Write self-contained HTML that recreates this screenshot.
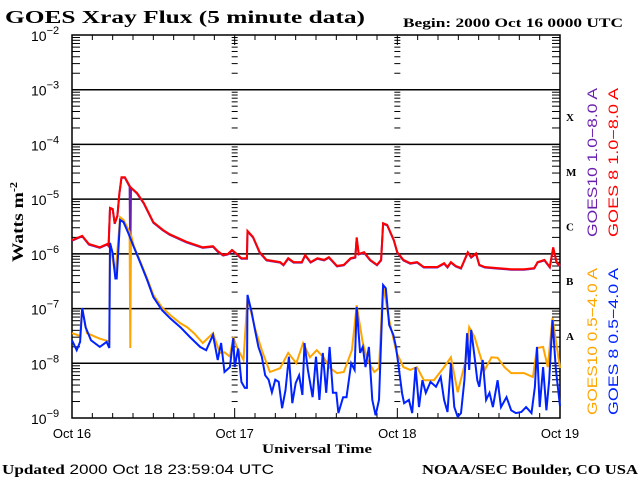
<!DOCTYPE html>
<html><head><meta charset="utf-8"><style>
html,body{margin:0;padding:0;background:#fff}
svg{display:block}
text{font-family:"Liberation Sans",sans-serif}
.serif{font-family:"Liberation Serif",serif;font-weight:bold}
</style></head><body>
<svg id="chart" width="640" height="480" viewBox="0 0 640 480" xmlns="http://www.w3.org/2000/svg">
<rect width="640" height="480" fill="#fff"/>
<text class="serif" x="5" y="23" font-size="18" textLength="360" lengthAdjust="spacingAndGlyphs">GOES Xray Flux (5 minute data)</text>
<text class="serif" x="403" y="27" font-size="13" textLength="220" lengthAdjust="spacingAndGlyphs">Begin:  2000 Oct 16 0000 UTC</text>
<text class="serif" font-size="16" transform="translate(23,262) rotate(-90)" textLength="80" lengthAdjust="spacingAndGlyphs">Watts m<tspan font-size="10" dy="-6">-2</tspan></text>
<text class="serif" x="262" y="453" font-size="13" textLength="110" lengthAdjust="spacingAndGlyphs">Universal Time</text>
<text x="2" y="474" font-size="14" textLength="272" lengthAdjust="spacingAndGlyphs"><tspan class="serif">Updated</tspan> 2000 Oct 18 23:59:04 UTC</text>
<text class="serif" x="422" y="474" font-size="14" textLength="216" lengthAdjust="spacingAndGlyphs">NOAA/SEC Boulder, CO USA</text>
<g id="axes"></g>
<g id="series"></g>
<text font-size="14" fill="#6a1fb0" transform="translate(597,237) rotate(-90)" textLength="149" lengthAdjust="spacingAndGlyphs">GOES10 1.0−8.0 A</text>
<text font-size="14" fill="#ff0000" transform="translate(618,237) rotate(-90)" textLength="149" lengthAdjust="spacingAndGlyphs">GOES 8 1.0−8.0 A</text>
<text font-size="14" fill="#ffa500" transform="translate(597,415) rotate(-90)" textLength="147" lengthAdjust="spacingAndGlyphs">GOES10 0.5−4.0 A</text>
<text font-size="14" fill="#0022ff" transform="translate(618,415) rotate(-90)" textLength="147" lengthAdjust="spacingAndGlyphs">GOES 8 0.5−4.0 A</text>
</svg>
<script>
const dayLabels=["Oct 16","Oct 17","Oct 18","Oct 19"];
const decadeExps=[-2,-3,-4,-5,-6,-7,-8,-9];
const flareClasses=["X","M","C","B","A"];
const redT=[0,1.5,2.5,4.1,5.2,5.4,5.6,6.0,6.3,6.7,7.0,7.3,7.8,8.6,9.6,10.6,12,13.4,14.4,16.9,19.3,20.8,21.5,22.3,23,23.6,24.3,25,25.8,25.9,26.7,27.7,28.7,30.7,31.2,31.9,32.7,33.9,34.4,35.2,36.2,37.2,37.9,39.1,40.1,41.1,41.8,42,42.3,43.1,44,45,45.6,45.9,46.5,47.5,48,48.9,49.9,50.9,51.9,53.9,54.9,55.4,55.9,56.6,57.4,58.4,58.9,59.6,60.1,60.9,62.8,64.8,66.7,68.2,68.7,69.7,70.5,71,71.5,72];
const redV=[-5.75,-5.67,-5.82,-5.88,-5.82,-5.85,-5.16,-5.18,-5.44,-5.3,-4.89,-4.6,-4.6,-4.78,-4.89,-5.07,-5.42,-5.56,-5.64,-5.78,-5.88,-5.86,-5.95,-6.02,-6.0,-5.93,-6.0,-6.08,-6.08,-5.58,-5.69,-5.97,-6.11,-6.15,-6.2,-6.08,-6.15,-6.15,-6.02,-6.15,-6.08,-6.11,-6.06,-6.22,-6.2,-6.08,-6.06,-5.7,-6.0,-5.97,-6.11,-6.2,-6.11,-5.44,-5.47,-5.75,-5.97,-6.11,-6.17,-6.15,-6.24,-6.24,-6.17,-6.24,-6.15,-6.22,-6.26,-5.97,-6.06,-5.99,-6.2,-6.24,-6.26,-6.28,-6.28,-6.26,-6.15,-6.11,-6.24,-5.88,-6.15,-6.22];
const purpleT=[0,1.5,2.5,4.1,5.2,5.4,5.6,6.0,6.3,6.7,7.0,7.3,7.8,8.5,8.6,8.7,9.6,10.6,12,13.4,14.4,16.9,19.3,20.8,21.5,22.3,23,23.6,24.3,25,25.8,25.9,26.7,27.7,28.7,30.7,31.2,31.9,32.7,33.9,34.4,35.2,36.2,37.2,37.9,39.1,40.1,41.1,41.8,42,42.3,43.1,44,45,45.6,45.9,46.5,47.5,48,48.9,49.9,50.9,51.9,53.9,54.9,55.4,55.9,56.6,57.4,58.4,58.9,59.6,60.1,60.9,62.8,64.8,66.7,68.2,68.7,69.7,70.5,71,71.5,72];
const purpleV=[-5.76,-5.68,-5.83,-5.89,-5.83,-5.86,-5.17,-5.19,-5.45,-5.31,-4.9,-4.61,-4.61,-4.77,-6.17,-4.79,-4.9,-5.08,-5.43,-5.57,-5.65,-5.79,-5.89,-5.87,-5.96,-6.03,-6.01,-5.94,-6.01,-6.09,-6.09,-5.59,-5.7,-5.98,-6.12,-6.16,-6.21,-6.09,-6.16,-6.16,-6.03,-6.16,-6.09,-6.12,-6.07,-6.23,-6.21,-6.09,-6.07,-5.71,-6.01,-5.98,-6.12,-6.21,-6.12,-5.45,-5.48,-5.76,-5.98,-6.12,-6.18,-6.16,-6.25,-6.25,-6.18,-6.25,-6.16,-6.23,-6.27,-5.98,-6.07,-6.0,-6.21,-6.25,-6.27,-6.29,-6.29,-6.27,-6.16,-6.12,-6.25,-5.89,-6.16,-6.23];
const orangeT=[0,1.2,1.5,2.2,4.1,5.5,5.6,6.4,7.1,7.6,8.5,8.6,8.7,9.1,10.1,11.1,12,13.3,14.5,16,17,18,19.3,20.8,21.8,22.5,23.3,23.8,24.3,25.3,25.9,27,28,29.2,30.7,31.9,33.1,34.1,35.1,36.1,37.1,38.1,39.1,40.1,41.3,42,42.9,43.6,44.6,45.3,45.9,46.8,47.9,48.9,49.9,50.9,51.9,53.4,54.9,55.9,56.9,58.1,58.6,59.4,60.1,60.9,61.9,62.8,63.8,64.8,66.7,68,68.6,69.5,70.2,70.9,72];
const orangeV=[-7.45,-7.5,-6.99,-7.45,-7.55,-7.6,-5.8,-6.4,-5.33,-5.38,-5.6,-7.72,-5.65,-5.85,-6.15,-6.45,-6.75,-6.98,-7.12,-7.27,-7.34,-7.45,-7.63,-7.45,-7.81,-7.8,-7.88,-7.52,-7.7,-7.94,-6.79,-7.36,-7.76,-8.16,-8.09,-7.81,-8.0,-7.63,-7.89,-7.76,-7.89,-8.09,-8.18,-8.16,-7.76,-6.94,-7.63,-7.94,-8.16,-8.09,-6.57,-7.21,-7.81,-8.07,-8.12,-8.07,-8.31,-8.31,-8.07,-7.89,-8.53,-7.94,-7.34,-7.52,-7.81,-8.12,-7.89,-7.9,-8.07,-8.18,-8.18,-8.25,-7.72,-7.7,-8.07,-7.17,-8.09];
const blueT=[0,0.7,1.2,1.5,2.0,2.8,4.1,5.1,5.5,5.6,6.0,6.4,6.6,7.1,7.6,8.3,9.1,10.1,11.1,12,13.3,14.5,16,17.4,18.9,19.8,20.8,21.5,22,22.5,23.3,23.8,24,24.5,25,25.5,25.8,25.9,26.5,27,27.5,28,28.5,29,29.5,30,30.5,31,31.5,32,32.5,33,33.5,34,34.3,34.8,35.5,36,36.5,37,37.5,38,38.5,39,39.3,40,40.5,41.2,41.7,42,42.5,42.9,43.3,43.8,44.3,44.8,45.3,45.9,46.3,46.8,47.4,47.8,48.2,48.7,49,49.7,50.2,50.7,51.2,51.7,52.2,52.9,53.7,54.4,54.9,55.4,55.9,56.4,56.9,57.4,57.9,58.3,58.6,58.9,59.4,59.8,60.1,60.6,61.1,61.6,62.1,62.8,63.3,64.1,64.8,65.5,66.3,67,67.8,68.3,68.6,69,69.5,70,70.4,70.9,71.4,72];
const blueV=[-7.58,-7.76,-7.61,-6.99,-7.34,-7.58,-7.7,-7.61,-7.72,-5.8,-5.99,-6.45,-6.45,-5.38,-5.42,-5.62,-5.87,-6.17,-6.48,-6.79,-7.03,-7.18,-7.34,-7.52,-7.7,-7.76,-7.48,-7.94,-7.63,-8.16,-8.07,-7.54,-8.07,-7.73,-8.34,-8.45,-8.45,-6.75,-7.06,-7.39,-7.7,-7.88,-8.22,-8.3,-8.53,-8.3,-8.34,-8.82,-8.49,-7.88,-8.73,-8.36,-8.22,-8.58,-7.63,-8.12,-8.62,-7.88,-8.67,-7.81,-8.54,-7.7,-8.54,-8.54,-8.91,-8.62,-8.62,-8.0,-8.12,-6.97,-7.81,-7.7,-8.07,-7.7,-8.67,-8.95,-8.67,-6.57,-6.63,-7.3,-7.48,-7.7,-8.07,-8.55,-8.73,-8.67,-8.91,-8.07,-8.8,-8.31,-8.54,-8.34,-8.43,-8.25,-8.67,-8.89,-8.0,-8.8,-8.98,-8.91,-8.31,-7.45,-8.12,-7.39,-7.89,-8.31,-8.43,-7.94,-8.67,-8.54,-8.8,-8.31,-8.8,-8.62,-8.86,-8.91,-8.89,-8.8,-8.91,-8.43,-7.7,-8.8,-8.07,-8.86,-8.31,-7.21,-8.12,-8.78];

const NS="http://www.w3.org/2000/svg";
const L=72,R=560,T=35,B=418,HOURS=72;
const xs=h=>L+(R-L)*h/HOURS;
const ys=v=>T+(-2-v)*(B-T)/7;
const axes=document.getElementById('axes');
const series=document.getElementById('series');
function mk(tag,attrs,parent){const e=document.createElementNS(NS,tag);for(const k in attrs)e.setAttribute(k,attrs[k]);parent.appendChild(e);return e;}

const frame=mk('rect',{x:L,y:T,width:R-L,height:B-T,fill:'none',stroke:'#000','stroke-width':1.5},axes);



decadeExps.forEach(e=>{
  const y=ys(e);
  if(e!==-2&&e!==-9){
    const g=mk('line',{x1:L,x2:R,y1:y,y2:y,stroke:'#000','stroke-width':1.5},axes);
    
    
  }
  const t=mk('text',{x:31,y:y+6,'font-size':14},axes);
  
  
  t.textContent='10';
  const s=mk('tspan',{dy:-7,'font-size':11},t);
  s.textContent='−'+(-e);
});
const tickXs=[[L,1],[R,-1],[xs(24),0],[xs(48),0]];
for(let d=-9;d<-2;d++){
  for(let m=1;m<10;m++){
    const y=ys(d+Math.log10(m));
    tickXs.forEach(([x,dir])=>{
      if(dir===0)mk('line',{x1:x-3,x2:x+3,y1:y,y2:y,stroke:'#000','stroke-width':1},axes);
      else mk('line',{x1:x,x2:x+dir*8,y1:y,y2:y,stroke:'#000','stroke-width':1},axes);
    });
  }
}
for(let h=0;h<=HOURS;h+=3){
  const x=xs(h),len=(h%24===0)?10:5;
  mk('line',{x1:x,x2:x,y1:B,y2:B-len,stroke:'#000','stroke-width':1},axes);
  mk('line',{x1:x,x2:x,y1:T,y2:T+len,stroke:'#000','stroke-width':1},axes);
}
dayLabels.forEach((d,i)=>{
  const t=mk('text',{x:xs(i*24),y:438,'font-size':13,'text-anchor':'middle'},axes);
  
  
  t.textContent=d;
});
flareClasses.forEach((c,i)=>{
  const t=mk('text',{x:566,y:ys(-3.5-i)+4,'font-size':11,'class':'serif'},axes);
  
  
  t.textContent=c;
});

function line(T_,V_,color,name){
  const pts=T_.map((t,i)=>xs(t).toFixed(1)+','+ys(V_[i]).toFixed(1)).join(' ');
  const p=mk('polyline',{points:pts,fill:'none',stroke:color,'stroke-width':2,'stroke-linejoin':'miter'},series);
  
  
}
line(purpleT,purpleV,'#6a1fb0','series-goes10-long');
line(redT,redV,'#ff0000','series-goes8-long');
line(orangeT,orangeV,'#ffa500','series-goes10-short');
line(blueT,blueV,'#0022ff','series-goes8-short');
</script>
</body></html>
